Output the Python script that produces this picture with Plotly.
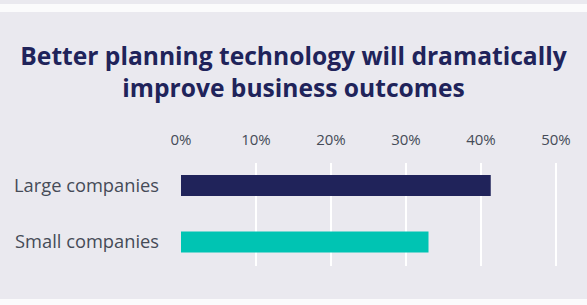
import plotly.graph_objects as go

categories = ["Large companies", "Small companies"]
values = [41.3, 33.0]
bar_colors = ["#20235a", "#00c4b3"]
tick_vals = [0, 10, 20, 30, 40, 50]
tick_text = ["0%", "10%", "20%", "30%", "40%", "50%"]
title_text = "Better planning technology will dramatically<br>improve business outcomes"

BG = "#eae9ef"
H_PLOT = 103

fig = go.Figure(go.Bar(
    x=values, y=categories, orientation="h",
    marker=dict(color=bar_colors, line=dict(width=0)),
    width=0.37, hoverinfo="skip",
))

fig.update_layout(
    width=587, height=305,
    paper_bgcolor=BG, plot_bgcolor=BG,
    margin=dict(l=181, r=16, t=163, b=39, autoexpand=False),
    showlegend=False,
    title=dict(text=title_text, x=0.5, xanchor="center", y=1 - 65 / 305, yanchor="middle",
               font=dict(family="Open Sans", size=24.6, color="#20235a", weight="bold")),
    font=dict(family="Open Sans", color="#454b57"),
    xaxis=dict(side="top", range=[0, 52], tickvals=tick_vals, ticktext=tick_text,
               showgrid=True, gridcolor="#ffffff", gridwidth=2, zeroline=False,
               showline=False, ticks="", tickfont=dict(size=15, color="#454b57"),
               automargin=False, ticklabelstandoff=14, fixedrange=True),
    yaxis=dict(categoryorder="array", categoryarray=categories,
               range=[1.425, -0.398], showgrid=False, zeroline=False, showline=False,
               ticks="", ticklabelstandoff=21, tickfont=dict(size=18.3, color="#454b57"),
               automargin=False, fixedrange=True),
    shapes=[
        dict(type="rect", xref="paper", yref="paper", x0=-1, x1=1.5,
             y0=1.0 + 151 / H_PLOT, y1=1.0 + 159 / H_PLOT,
             fillcolor="#fbfbfc", line=dict(width=0), layer="above"),
        dict(type="rect", xref="paper", yref="paper", x0=-1, x1=1.5,
             y0=-39 / H_PLOT, y1=-33 / H_PLOT,
             fillcolor="#fbfbfc", line=dict(width=0), layer="above"),
    ],
)

fig.write_html("out.html", config={"displayModeBar": False},
               post_script="document.body.style.margin='0';")
